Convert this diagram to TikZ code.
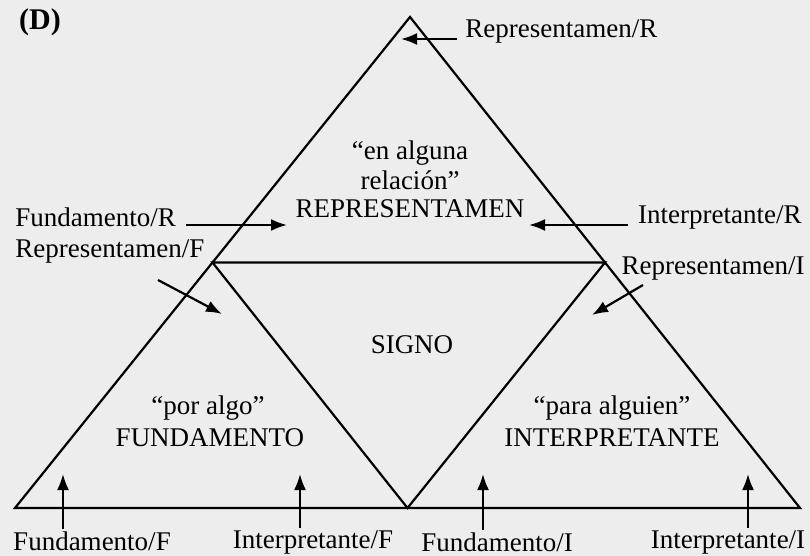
\documentclass[tikz,border=0pt]{standalone}
\usepackage{fontspec}
\setmainfont{Liberation Serif}
\usetikzlibrary{arrows.meta,calc}

\begin{document}
\begin{tikzpicture}[x=0.5pt, y=-0.5pt, every node/.style={font=\fontsize{13.5}{16}\selectfont, inner sep=1pt}, lbl/.style={anchor=west}, rlbl/.style={anchor=east}, edge/.style={line width=1.1pt, line join=miter}, arrow/.style={-{Latex[length=8pt,width=6pt]}, line width=1.1pt}]
\fill[black!7] (0,0) rectangle (810,556);
\useasboundingbox (0,0) rectangle (810,556);
\coordinate (apex) at (410,17);
\coordinate (left) at (15,508);
\coordinate (right) at (800,508);
\coordinate (midL) at ($(apex)!0.5!(left)$);
\coordinate (midR) at ($(apex)!0.5!(right)$);
\coordinate (midB) at ($(left)!0.5!(right)$);
\draw[edge] (apex) -- (left) -- (right) -- cycle;
\draw[edge] (midL) -- (midR) -- (midB) -- cycle;
\node[font=\fontsize{15}{18}\selectfont\bfseries] (dlabel) at (40,22) {(D)};
\node[lbl] (repR) at (463,31) {Representamen/R};
\node (enalg) at (410,153) {“en alguna};
\node (relac) at (410,180) {relación”};
\node (repre) at (410,209) {REPRESENTAMEN};
\node[lbl] (fundR) at (13,217) {Fundamento/R};
\node[rlbl] (intR) at (804,217) {Interpretante/R};
\node[lbl] (repF) at (13,251) {Representamen/F};
\node[rlbl] (repI) at (807,268) {Representamen/I};
\node (signo) at (412,345) {SIGNO};
\node (poralgo) at (208,408) {“por algo”};
\node (fundam) at (210,438) {FUNDAMENTO};
\node (paraalg) at (612,408) {“para alguien”};
\node (interp) at (612,438) {INTERPRETANTE};
\node (fundF) at (92,541) {Fundamento/F};
\node (intF) at (313,542) {Interpretante/F};
\node (fundI) at (497,542) {Fundamento/I};
\node (intI) at (728,542) {Interpretante/I};
\coordinate (tipRR) at (401,39);
\coordinate (tipFR) at (287,225);
\coordinate (tipIR) at (529,225);
\coordinate (tailRF) at (158,280);
\coordinate (tipRF) at (222,314);
\coordinate (tailRI) at (643,285);
\coordinate (tipRI) at (592,315);
\coordinate (tipFF) at (63,474);
\coordinate (tipIF) at (300,474);
\coordinate (tipFI) at (483,474);
\coordinate (tipII) at (748,474);
\draw[arrow, shorten <=3pt] (repR.west |- tipRR) -- (tipRR);
\draw[arrow, shorten <=4pt] (fundR.east |- tipFR) -- (tipFR);
\draw[arrow, shorten <=4pt] (intR.west |- tipIR) -- (tipIR);
\draw[arrow] (tailRF) -- (tipRF);
\draw[arrow] (tailRI) -- (tipRI);
\draw[arrow] (fundF.north -| tipFF) -- (tipFF);
\draw[arrow] (intF.north -| tipIF) -- (tipIF);
\draw[arrow] (fundI.north -| tipFI) -- (tipFI);
\draw[arrow] (intI.north -| tipII) -- (tipII);
\end{tikzpicture}
\end{document}
